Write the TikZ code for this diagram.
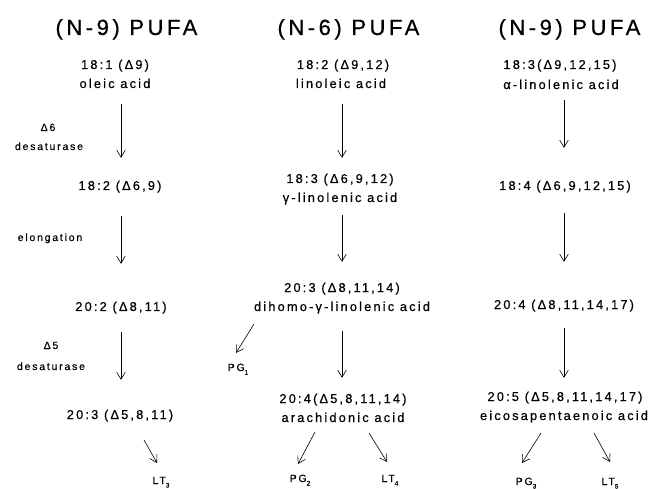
\documentclass[tikz,border=0pt]{standalone}
\usepackage{fontspec}
\setmainfont{Liberation Sans}[LetterSpace=17,FakeBold=0.5]
\usetikzlibrary{arrows.meta}
\newcommand{\sbx}[1]{\raisebox{-3.5pt}{\fontsize{6.5}{7}\selectfont #1}}
\begin{document}
\begin{tikzpicture}[x=1pt,y=-1pt,
 lab/.style={anchor=base, inner sep=0pt, text height=9pt, text depth=3pt, font=\fontsize{12.8}{14}\selectfont},
 ttl/.style={anchor=base, inner sep=0pt, font=\fontsize{22}{24}\selectfont\addfontfeature{LetterSpace=16}},
 sml/.style={anchor=base, inner sep=0pt, font=\fontsize{10.5}{12}\selectfont},
 prod/.style={anchor=base, inner sep=0pt, font=\fontsize{10.5}{12}\selectfont},
 arr/.style={-{Straight Barb[length=7pt,width=8.5pt]}, line width=0.6pt}]
\useasboundingbox (0,0) rectangle (659,489);
% titles
\node[ttl] (t1) at (126.5,35) {(N-9) PUFA};
\node[ttl] (t2) at (348.5,35) {(N-6) PUFA};
\node[ttl] (t3) at (569.5,35) {(N-9) PUFA};
% column axes
\coordinate (x1) at (121,0);
\coordinate (x2) at (342,0);
\coordinate (x3) at (564,0);
% column 1
\node[lab] (a1) at (115,69) {18:1 (Δ9)};
\node[lab] (a2) at (115,88) {oleic acid};
\node[lab] (a3) at (120,190) {18:2 (Δ6,9)};
\node[lab] (a4) at (121,311) {20:2 (Δ8,11)};
\node[lab] (a5) at (120,419) {20:3 (Δ5,8,11)};
\node[prod] (lt3) at (161,484) {LT\sbx{3}};
\node[sml] (e1) at (48,131) {Δ6};
\node[sml] (e2) at (49,150) {desaturase};
\node[sml] (e3) at (50,241) {elongation};
\node[sml] (e4) at (51,349) {Δ5};
\node[sml] (e5) at (51,370) {desaturase};
% column 2
\node[lab] (b1) at (343,69) {18:2 (Δ9,12)};
\node[lab] (b2) at (341,88) {linoleic acid};
\node[lab] (b3) at (340,183) {18:3 (Δ6,9,12)};
\node[lab] (b4) at (340,202) {γ-linolenic acid};
\node[lab] (b5) at (342,292) {20:3 (Δ8,11,14)};
\node[lab] (b6) at (342,311) {dihomo-γ-linolenic acid};
\node[lab] (b7) at (343,403) {20:4(Δ5,8,11,14)};
\node[lab] (b8) at (343,422) {arachidonic acid};
\node[prod] (pg1) at (238,371) {PG\sbx{1}};
\node[prod] (pg2) at (300,482) {PG\sbx{2}};
\node[prod] (lt4) at (390,482) {LT\sbx{4}};
% column 3
\node[lab] (c1) at (560,69) {18:3(Δ9,12,15)};
\node[lab] (c2) at (561,89) {α-linolenic acid};
\node[lab] (c3) at (565,190) {18:4 (Δ6,9,12,15)};
\node[lab] (c4) at (564,309) {20:4 (Δ8,11,14,17)};
\node[lab] (c5) at (565,401) {20:5 (Δ5,8,11,14,17)};
\node[lab] (c6) at (564,420) {eicosapentaenoic acid};
\node[prod] (pg3) at (526,485) {PG\sbx{3}};
\node[prod] (lt5) at (610,485) {LT\sbx{5}};
% vertical arrows
\draw[arr, shorten <=13pt, shorten >=23pt] (a2.south -| x1) -- (a3.north -| x1);
\draw[arr, shorten <=23pt, shorten >=38pt] (a3.south -| x1) -- (a4.north -| x1);
\draw[arr, shorten <=18pt, shorten >=30pt] (a4.south -| x1) -- (a5.north -| x1);
\draw[arr, shorten <=13pt, shorten >=16pt] (b2.south -| x2) -- (b3.north -| x2);
\draw[arr, shorten <=10pt, shorten >=21pt] (b4.south -| x2) -- (b5.north -| x2);
\draw[arr, shorten <=17pt, shorten >=16pt] (b6.south -| x2) -- (b7.north -| x2);
\draw[arr, shorten <=8pt, shorten >=33pt] (c2.south -| x3) -- (c3.north -| x3);
\draw[arr, shorten <=20pt, shorten >=38pt] (c3.south -| x3) -- (c4.north -| x3);
\draw[arr, shorten <=16pt, shorten >=14pt] (c4.south -| x3) -- (c5.north -| x3);
% branch arrows
\coordinate (s1) at (144,440); \coordinate (f1) at (157,463);
\coordinate (s2) at (254,324); \coordinate (f2) at (236,353);
\coordinate (s3) at (315,432); \coordinate (f3) at (298,464);
\coordinate (s4) at (369,433); \coordinate (f4) at (387,462);
\coordinate (s5) at (541,433); \coordinate (f5) at (522,463);
\coordinate (s6) at (594,433); \coordinate (f6) at (610,462);
\draw[arr] (s1) -- (f1);
\draw[arr] (s2) -- (f2);
\draw[arr] (s3) -- (f3);
\draw[arr] (s4) -- (f4);
\draw[arr] (s5) -- (f5);
\draw[arr] (s6) -- (f6);
\end{tikzpicture}
\end{document}
